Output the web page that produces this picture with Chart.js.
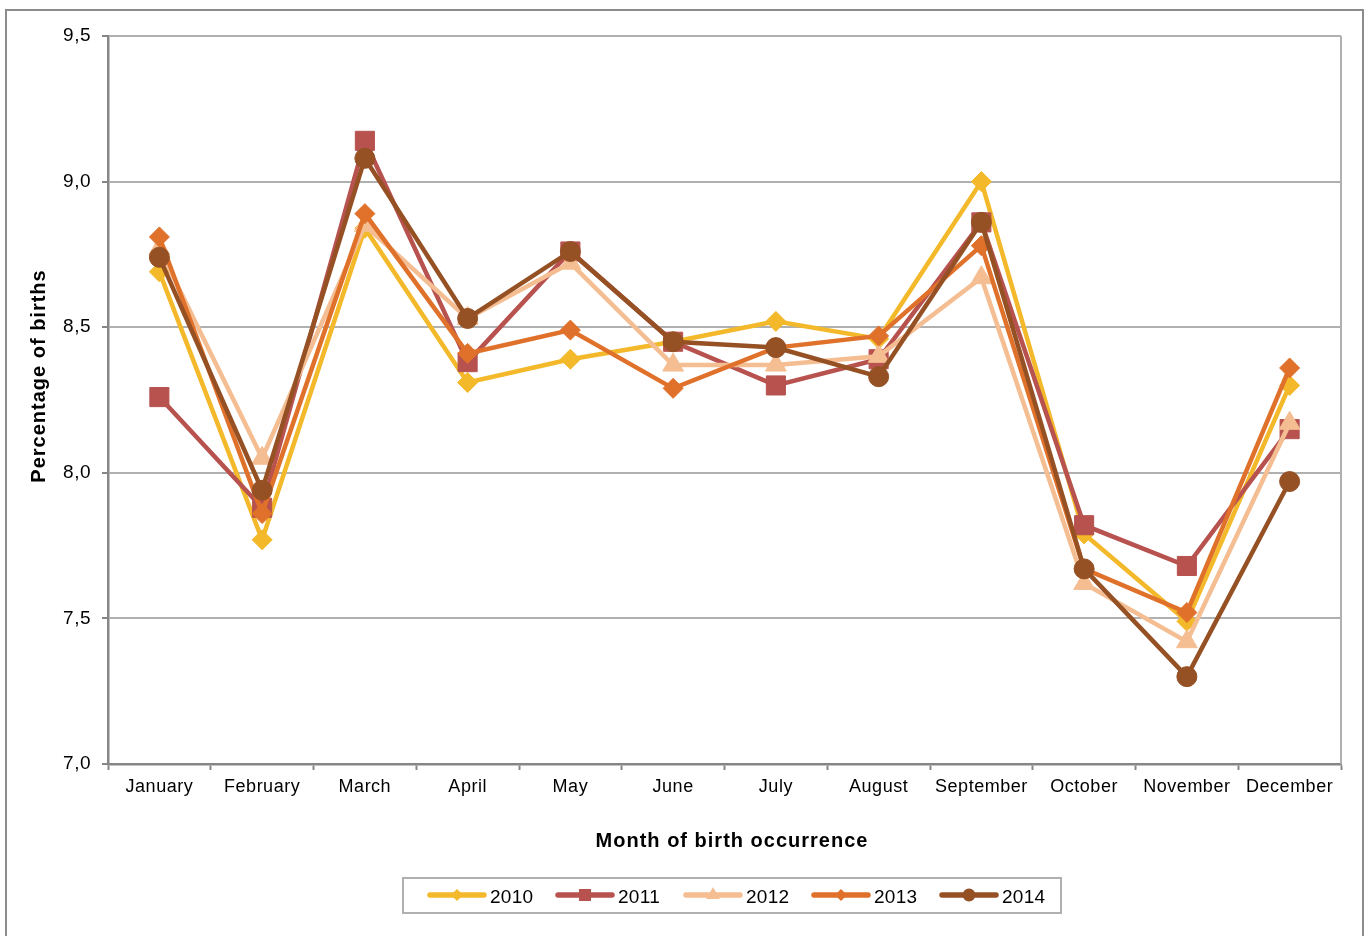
<!DOCTYPE html>
<html>
<head>
<meta charset="utf-8">
<script src="https://cdn.jsdelivr.net/npm/chart.js@4.4.1/dist/chart.umd.min.js"></script>
<style>
  body { margin: 0; background: #fff; }
  #wrap { width: 1371px; height: 936px; position: relative; }
</style>
</head>
<body>
<div id="wrap"><canvas id="birthsChart"></canvas></div>
<script>
const months = ["January", "February", "March", "April", "May", "June",
  "July", "August", "September", "October", "November", "December"];
const years = ["2010", "2011", "2012", "2013", "2014"];

// percentage of births per month
const births2010 = [8.69, 7.77, 8.84, 8.31, 8.39, 8.45, 8.52, 8.46, 9.00, 7.79, 7.49, 8.30];
const births2011 = [8.26, 7.88, 9.14, 8.38, 8.76, 8.45, 8.30, 8.39, 8.86, 7.82, 7.68, 8.15];
const births2012 = [8.77, 8.05, 8.85, 8.53, 8.72, 8.37, 8.37, 8.40, 8.67, 7.62, 7.42, 8.17];
const births2013 = [8.81, 7.86, 8.89, 8.41, 8.49, 8.29, 8.43, 8.47, 8.78, 7.67, 7.52, 8.36];
const births2014 = [8.74, 7.94, 9.08, 8.53, 8.76, 8.45, 8.43, 8.33, 8.86, 7.67, 7.30, 7.97];

const yTicks = [7.0, 7.5, 8.0, 8.5, 9.0, 9.5];

const colors = ["#F3B92A", "#B7524F", "#F5BE92", "#E0712A", "#955024"];
const markers = ["rectRot", "rect", "triangle", "rectRot", "circle"];
const markerSizes = [10, 13.5, 12, 10, 10];
const legendSizes = [6, 8.5, 8, 6, 6.5];

const FONT = "'Liberation Sans', Arial, sans-serif";

const seriesData = [births2010, births2011, births2012, births2013, births2014];

const datasets = years.map((year, i) => ({
  label: year,
  data: seriesData[i],
  borderColor: colors[i],
  backgroundColor: colors[i],
  borderWidth: 4.5,
  pointStyle: markers[i],
  pointRadius: markerSizes[i],
  pointBackgroundColor: colors[i],
  pointBorderColor: colors[i],
  pointBorderWidth: 1,
  tension: 0,
  order: years.length - i // later years on top
}));

// frame, plot border, axis titles and the boxed legend
const decorations = {
  id: "decorations",
  beforeDraw(chart) {
    const ctx = chart.ctx;
    ctx.save();
    ctx.fillStyle = "#fff";
    ctx.fillRect(0, 0, chart.width, chart.height);
    ctx.strokeStyle = "#8c8c8c";
    ctx.lineWidth = 2;
    ctx.strokeRect(6, 10, 1357, 1000);
    ctx.restore();
    ctx.letterSpacing = "0.5px";
  },
  afterDraw(chart) {
    const ctx = chart.ctx;
    const area = chart.chartArea;
    ctx.save();
    // right border of the plot
    ctx.strokeStyle = "#b0b0b0";
    ctx.lineWidth = 2;
    ctx.beginPath();
    ctx.moveTo(area.right, area.top);
    ctx.lineTo(area.right, area.bottom);
    ctx.stroke();

    // axis titles
    ctx.fillStyle = "#000";
    ctx.font = "bold 20px " + FONT;
    ctx.letterSpacing = "1px";
    ctx.textAlign = "center";
    ctx.textBaseline = "middle";
    ctx.fillText("Month of birth occurrence", 732, 841);
    ctx.translate(39, 376);
    ctx.rotate(-Math.PI / 2);
    ctx.fillText("Percentage of births", 0, 0);
    ctx.restore();

    // legend
    ctx.save();
    ctx.strokeStyle = "#b0b0b0";
    ctx.lineWidth = 2;
    ctx.strokeRect(403, 878, 658, 35);
    ctx.font = "19px " + FONT;
    ctx.letterSpacing = "0.3px";
    ctx.textAlign = "left";
    ctx.textBaseline = "middle";
    chart.data.datasets.forEach((ds, i) => {
      const x0 = 430 + i * 128;
      const y = 895;
      ctx.strokeStyle = ds.borderColor;
      ctx.fillStyle = ds.borderColor;
      ctx.lineWidth = 5.5;
      ctx.lineCap = "round";
      ctx.beginPath();
      ctx.moveTo(x0, y);
      ctx.lineTo(x0 + 54, y);
      ctx.stroke();
      Chart.helpers.drawPoint(ctx, {
        pointStyle: ds.pointStyle,
        radius: legendSizes[i],
        rotation: 0,
        borderWidth: 0
      }, x0 + 27, y);
      ctx.fillStyle = "#000";
      ctx.fillText(ds.label, x0 + 60, 898);
    });
    ctx.restore();
  }
};

new Chart(document.getElementById("birthsChart"), {
  type: "line",
  data: { labels: months, datasets: datasets },
  plugins: [decorations],
  options: {
    responsive: true,
    maintainAspectRatio: false,
    animation: false,
    layout: { padding: { top: 36, right: 30, left: 0, bottom: 0 } },
    plugins: {
      legend: { display: false },
      tooltip: { enabled: false }
    },
    scales: {
      x: {
        offset: true,
        afterFit: (scale) => { scale.height = 172; },
        grid: {
          offset: true,
          drawOnChartArea: false,
          drawTicks: true,
          tickLength: 6,
          tickColor: "#868686",
          tickWidth: 2
        },
        border: { color: "#868686", width: 2.5 },
        ticks: {
          color: "#000",
          font: { family: FONT, size: 18 },
          padding: 6,
          maxRotation: 0,
          autoSkip: false
        }
      },
      y: {
        min: yTicks[0],
        max: yTicks[yTicks.length - 1],
        afterFit: (scale) => { scale.width = 108; },
        afterBuildTicks: (scale) => { scale.ticks = yTicks.map(v => ({ value: v })); },
        grid: {
          color: "#b0b0b0",
          lineWidth: 2,
          tickLength: 6,
          tickColor: "#868686",
          tickWidth: 2
        },
        border: { color: "#868686", width: 2.5 },
        ticks: {
          color: "#000",
          font: { family: FONT, size: 19 },
          padding: 11,
          callback: (v) => Number(v).toFixed(1).replace(".", ",")
        }
      }
    }
  }
});
</script>
</body>
</html>
